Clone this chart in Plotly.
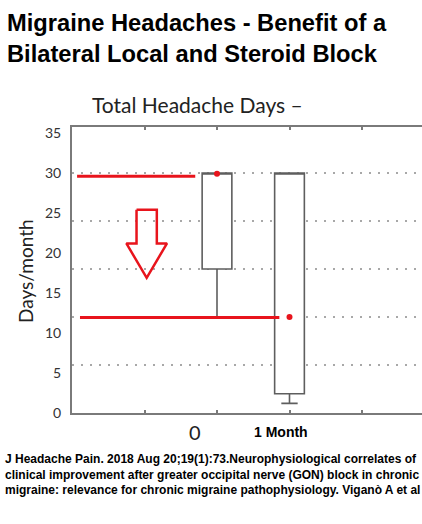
import plotly.graph_objects as go

# ---- data ----
box_x = [2, 3]
box_q1 = [18, 2.4]
box_median = [30, 30]
box_q3 = [30, 30]
box_low = [12, 1.2]
box_high = [30, 30]
box_mean = [29.9, 12]

# hand-drawn red annotation lines (data coords)
red_line_y = [29.6, 11.95]
red_line_x0 = [0.07, 0.11]
red_line_x1 = [1.70, 2.86]

# hand-drawn down arrow outline (data coords)
arrow_x = [0.89, 1.17, 1.17, 1.31, 1.03, 0.75, 0.89, 0.89]
arrow_y = [25.4, 25.4, 21.2, 21.2, 16.9, 21.2, 21.2, 25.4]

y_tick_vals = [0, 5, 10, 15, 20, 25, 30, 35]
grid_step = 6
x_tick_vals = [1, 2, 3, 4]

RED = "#e8141c"
AX = "#7a7a7a"

W, H = 422, 524
L, R, T, B = 72, 0, 127, 111
PW, PH = W - L - R, H - T - B


def px(xp):
    return (xp - L) / PW


def py(yp):
    return (H - B - yp) / PH


fig = go.Figure()

# invisible trace so the base x/y subplot (tick labels, left line) exists
fig.add_trace(go.Scatter(x=[1], y=[1], mode="markers", marker=dict(opacity=0),
                         showlegend=False, hoverinfo="skip"))

for i in range(len(box_x)):
    fig.add_trace(go.Box(
        x=[box_x[i]], q1=[box_q1[i]], median=[box_median[i]], q3=[box_q3[i]],
        lowerfence=[box_low[i]], upperfence=[box_high[i]],
        width=0.41, whiskerwidth=0.55, fillcolor="white",
        line=dict(color="#5e5e5e", width=1.6), boxpoints=False,
        showlegend=False, hoverinfo="skip", yaxis="y2",
    ))

for i in range(len(red_line_y)):
    fig.add_trace(go.Scatter(
        x=[red_line_x0[i], red_line_x1[i]], y=[red_line_y[i], red_line_y[i]],
        mode="lines", line=dict(color=RED, width=3), showlegend=False,
        hoverinfo="skip", yaxis="y2",
    ))

fig.add_trace(go.Scatter(
    x=box_x, y=box_mean, mode="markers",
    marker=dict(color=RED, size=6), showlegend=False, hoverinfo="skip",
    yaxis="y2",
))

fig.add_trace(go.Scatter(
    x=arrow_x, y=arrow_y, mode="lines",
    line=dict(color=RED, width=2.5), showlegend=False, hoverinfo="skip",
    yaxis="y2",
))

yr = [0, 35.75]
fig.update_layout(
    width=W, height=H,
    margin=dict(l=L, r=R, t=T, b=B, pad=0),
    paper_bgcolor="white", plot_bgcolor="white",
    xaxis=dict(
        range=[0, PW / 72.5], tickvals=x_tick_vals, showticklabels=False,
        ticks="inside", ticklen=3, tickcolor=AX, tickwidth=2,
        showline=True, linecolor=AX, linewidth=2, mirror="ticks",
        showgrid=False, zeroline=False,
    ),
    yaxis=dict(
        range=yr, tickvals=y_tick_vals, ticks="", showgrid=False,
        showline=True, linecolor=AX, linewidth=2, zeroline=False,
        tickfont=dict(family="Lato", size=14, color="#333"),
        ticklabelstandoff=6,
    ),
    yaxis2=dict(
        range=yr, overlaying="y", dtick=grid_step, tick0=0,
        showticklabels=False, ticks="", showline=False, zeroline=False,
        showgrid=True, gridcolor="#a8a8a8", gridwidth=1.5,
        griddash="2px,7px",
    ),
)

ann = []
ann.append(dict(
    text="<b>Migraine Headaches - Benefit of a<br>Bilateral Local and Steroid Block</b>",
    xref="paper", yref="paper", x=px(5), y=py(8), xanchor="left", yanchor="top",
    align="left", showarrow=False,
    font=dict(family="Liberation Sans", size=23.7, color="black"),
))
ann.append(dict(
    text="Total Headache Days –", xref="paper", yref="paper",
    x=px(90), y=py(104), xanchor="left", yanchor="middle", showarrow=False,
    font=dict(family="Lato", size=21, color="#222"),
))
ann.append(dict(
    text="Days/month", xref="paper", yref="paper", textangle=-90,
    x=px(25), y=py(271), xanchor="center", yanchor="middle", showarrow=False,
    font=dict(family="Lato", size=19, color="#222"),
))
ann.append(dict(
    text="0", xref="paper", yref="paper",
    x=px(195), y=py(432), xanchor="center", yanchor="middle", showarrow=False,
    font=dict(family="Lato", size=20, color="#222"),
))
ann.append(dict(
    text="<b>1 Month</b>", xref="paper", yref="paper",
    x=px(281), y=py(432), xanchor="center", yanchor="middle", showarrow=False,
    font=dict(family="Liberation Sans", size=14, color="black"),
))
ann.append(dict(
    text=("<b>J Headache Pain. 2018 Aug 20;19(1):73.Neurophysiological correlates of<br>"
          "clinical improvement after greater occipital nerve (GON) block in chronic<br>"
          "migraine: relevance for chronic migraine pathophysiology. Viganò A et al</b>"),
    xref="paper", yref="paper", x=px(3), y=py(450), xanchor="left", yanchor="top",
    align="left", showarrow=False,
    font=dict(family="Liberation Sans", size=12, color="black"),
))
fig.update_layout(annotations=ann)

fig.write_html("out.html", config={"displayModeBar": False},
               post_script="document.body.style.margin='0';")
